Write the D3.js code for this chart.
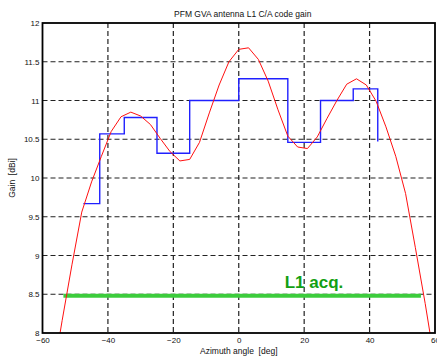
<!DOCTYPE html>
<html>
<head>
<meta charset="utf-8">
<script src="https://cdn.jsdelivr.net/npm/d3@7"></script>
<style>
  body { margin: 0; background: #fff; }
  svg { display: block; font-family: "Liberation Sans", Arial, sans-serif; }
</style>
</head>
<body>
<div id="chart"></div>
<script>
// measured gain curve (red), every 3 deg
const azimuth = [-57, -54, -51, -48, -45, -42, -39, -36, -33, -30, -27, -24, -21, -18, -15, -12, -9, -6, -3,
  0, 3, 6, 9, 12, 15, 18, 21, 24, 27, 30, 33, 36, 39, 42, 45, 48, 51, 54, 57, 60]
const gain = [7.4, 8.16, 8.88, 9.56, 9.95, 10.28, 10.6, 10.79, 10.85, 10.8, 10.69, 10.51, 10.34, 10.22, 10.24, 10.46, 10.84, 11.2, 11.5,
  11.66, 11.68, 11.53, 11.25, 10.88, 10.54, 10.4, 10.38, 10.53, 10.77, 11.0, 11.21, 11.28, 11.2, 10.99, 10.66, 10.28, 9.8, 9.1, 8.38, 7.6]

// binned gain (blue stairs)
const stepEdges = [-47.5, -42.5, -35, -25, -15, 0, 15, 25, 35, 42.5]
const stepGain = [9.67, 10.57, 10.78, 10.32, 11.0, 11.28, 10.46, 11.0, 11.15, 10.47]

// acquisition threshold
const acqRange = [-53.6, 55.7]
const acqLevel = 8.48
const acqLabel = "L1 acq."

const xTicks = [-60, -40, -20, 0, 20, 40, 60]
const yTicks = [8, 8.5, 9, 9.5, 10, 10.5, 11, 11.5, 12]

const W = 437, H = 356
const margin = {top: 23, right: 2, bottom: 23, left: 42.5}
const width = W - margin.left - margin.right
const height = H - margin.top - margin.bottom

const svg = d3.select("#chart").append("svg")
    .attr("width", W)
    .attr("height", H)

const g = svg.append("g")
    .attr("transform", "translate(" + margin.left + "," + margin.top + ")")

const x = d3.scaleLinear().domain([-60, 60]).range([0, width])
const y = d3.scaleLinear().domain([8, 12]).range([height, 0])

g.append("defs").append("clipPath").attr("id", "clip")
    .append("rect").attr("width", width).attr("height", height)

// grid
g.append("g")
    .selectAll("line.gx")
    .data(xTicks.slice(1, -1))
    .enter().append("line")
    .attr("x1", d => x(d)).attr("x2", d => x(d))
    .attr("y1", 0).attr("y2", height)
    .attr("stroke", "#222").attr("stroke-width", 1.2)
    .attr("stroke-dasharray", "5,3")
g.append("g")
    .selectAll("line.gy")
    .data(yTicks.slice(1, -1))
    .enter().append("line")
    .attr("y1", d => y(d)).attr("y2", d => y(d))
    .attr("x1", 0).attr("x2", width)
    .attr("stroke", "#222").attr("stroke-width", 1.2)
    .attr("stroke-dasharray", "5,3")

// axes
const xAxis = g.append("g")
    .attr("transform", "translate(0," + height + ")")
    .call(d3.axisBottom(x).tickValues(xTicks).tickSize(0).tickPadding(4))
const yAxis = g.append("g")
    .call(d3.axisLeft(y).tickValues(yTicks).tickSize(0).tickPadding(3).tickFormat(d3.format("")))
xAxis.select(".domain").remove()
yAxis.select(".domain").remove()
xAxis.selectAll("text").attr("font-size", 8).attr("fill", "#111")
    .attr("font-family", "Liberation Sans, Arial, sans-serif")
yAxis.selectAll("text").attr("font-size", 8).attr("fill", "#111")
    .attr("font-family", "Liberation Sans, Arial, sans-serif")

const plot = g.append("g").attr("clip-path", "url(#clip)")

// green threshold line
plot.append("line")
    .attr("x1", x(acqRange[0])).attr("x2", x(acqRange[1]))
    .attr("y1", y(acqLevel)).attr("y2", y(acqLevel))
    .attr("stroke", "#3ccc3c").attr("stroke-width", 4)

plot.append("text")
    .attr("x", x(23)).attr("y", y(8.58))
    .attr("text-anchor", "middle")
    .attr("font-size", 17).attr("font-weight", "bold")
    .attr("fill", "#12a012")
    .text(acqLabel)

// blue stairs
const stairPts = []
stepEdges.forEach((e, i) => {
    if (i > 0) stairPts.push([e, stepGain[i - 1]])
    stairPts.push([e, stepGain[i]])
    if (i < stepEdges.length - 1) stairPts.push([stepEdges[i + 1], stepGain[i]])
})
plot.append("path")
    .datum(stairPts)
    .attr("fill", "none")
    .attr("stroke", "#2020ff")
    .attr("stroke-width", 1.4)
    .attr("d", d3.line().x(d => x(d[0])).y(d => y(d[1])))

// red curve
plot.append("path")
    .datum(azimuth.map((a, i) => [a, gain[i]]))
    .attr("fill", "none")
    .attr("stroke", "#ff1010")
    .attr("stroke-width", 1)
    .attr("d", d3.line().x(d => x(d[0])).y(d => y(d[1])))

// box
g.append("rect")
    .attr("width", width).attr("height", height)
    .attr("fill", "none").attr("stroke", "#000").attr("stroke-width", 1.8)

// labels
svg.append("text")
    .attr("x", margin.left + width / 2 + 4).attr("y", 17)
    .attr("text-anchor", "middle").attr("font-size", 8.5).attr("fill", "#111")
    .text("PFM GVA antenna L1 C/A code gain")
svg.append("text")
    .attr("x", margin.left + width / 2).attr("y", 354)
    .attr("text-anchor", "middle").attr("font-size", 8.5).attr("fill", "#111")
    .attr("xml:space", "preserve")
    .text("Azimuth angle  [deg]")
svg.append("text")
    .attr("transform", "translate(15," + (margin.top + height / 2) + ") rotate(-90)")
    .attr("text-anchor", "middle").attr("font-size", 8.5).attr("fill", "#111")
    .attr("xml:space", "preserve")
    .text("Gain  [dBi]")
</script>
</body>
</html>
